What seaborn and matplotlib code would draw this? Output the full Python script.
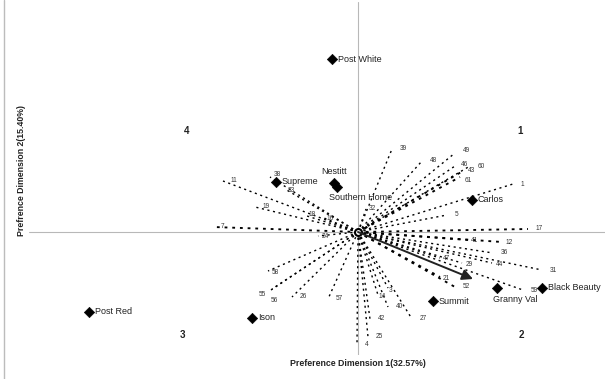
import matplotlib
matplotlib.use("Agg")
import matplotlib.pyplot as plt
import seaborn as sns
import pandas as pd

# product positions on the two preference dimensions
products = ["Post White", "Supreme", "Nestitt", "Southern Home", "Carlos",
            "Black Beauty", "Granny Val", "Summit", "Ison", "Post Red"]
prod_dim1 = [-0.26, -0.82, -0.24, -0.21, 1.14, 1.84, 1.39, 0.75, -1.06, -2.69]
prod_dim2 = [1.73, 0.50, 0.49, 0.45, 0.32, -0.56, -0.56, -0.69, -0.86, -0.80]

# consumer preference vectors (end points)
consumers = ["39", "48", "49", "46", "60", "43", "61", "1", "5", "32", "17",
             "11", "38", "33", "19", "18", "16", "7",
             "24", "58", "55", "56", "26", "57", "4",
             "25", "42", "14", "3", "40", "27", "52", "21", "47", "29", "44",
             "36", "41", "12", "31", "59"]
cons_dim1 = [0.34, 0.64, 0.97, 0.97, 1.12, 1.05, 1.02, 1.55, 0.89, 0.08, 1.70,
             -1.35, -0.88, -0.73, -1.03, -0.51, -0.34, -1.45,
             -0.40, -0.90, -0.90, -0.86, -0.66, -0.30, -0.01,
             0.10, 0.12, 0.20, 0.30, 0.30, 0.54, 0.97, 0.82, 0.82, 1.04, 1.34,
             1.35, 1.10, 1.44, 1.84, 1.65]
cons_dim2 = [0.83, 0.71, 0.79, 0.66, 0.66, 0.61, 0.55, 0.48, 0.17, 0.23, 0.03,
             0.51, 0.55, 0.43, 0.25, 0.16, 0.14, 0.05,
             -0.04, -0.39, -0.60, -0.57, -0.65, -0.67, -1.13,
             -1.05, -0.87, -0.63, -0.56, -0.75, -0.87, -0.55, -0.45, -0.26, -0.31, -0.31,
             -0.21, -0.08, -0.10, -0.38, -0.58]

# average preference direction
ideal_dim1 = 1.15
ideal_dim2 = -0.47

quadrants = ["1", "4", "3", "2"]

sns.set_style("white")
plt.rcParams["font.family"] = ["Liberation Sans", "DejaVu Sans"]

fig = plt.figure(figsize=(6.08, 3.79), dpi=100)
W, H = 608, 379
ax = fig.add_axes([29 / W, (H - 355) / H, (605 - 29) / W, (355 - 2) / H])
ax.set_xlim(-3.29, 2.47)
ax.set_ylim(-1.23, 2.30)
ax.axis("off")

ax.axhline(0, color="#b8b8b8", lw=0.8, zorder=0)
ax.axvline(0, color="#b8b8b8", lw=0.8, zorder=0)

# left border of the original frame
fig.add_artist(plt.Line2D([4 / W, 4 / W], [0, 1], color="#bcbcbc", lw=1.0))

thick = {"17", "7", "61", "43", "52", "12", "41", "21"}
lab_off = {"43": (5, 1), "61": (5, -4), "46": (6, 1), "49": (8, 2),
           "32": (3, 1), "38": (4, 3), "33": (3, -2),
           "18": (2, 1), "16": (3, -1), "24": (4, -1), "58": (4, -2),
           "55": (-9, -2), "56": (-1, -11), "14": (1, -2), "3": (1, -3),
           "21": (3, -2), "47": (3, 0), "41": (3, 0), "12": (4, -1),
           "29": (4, -1), "44": (4, -1)}
px = 0.72  # points per pixel

for name, x, y in zip(consumers, cons_dim1, cons_dim2):
    lw = 1.35 if name in thick else 1.0
    ax.plot([0, x], [0, y], color="black", lw=lw,
            linestyle=(0, (1.5, 2.6)), zorder=1)
    dx, dy = lab_off.get(name, (8, 0))
    ax.annotate(name, (x, y), xytext=(dx * px, dy * px), textcoords="offset points",
                fontsize=4.7, color="#333333", ha="left", va="center")

ax.plot([0], [0], marker="o", ms=5, mfc="white", mec="black", mew=1.5, zorder=3)

ax.annotate("", xy=(ideal_dim1, ideal_dim2), xytext=(0, 0),
            arrowprops=dict(arrowstyle="-|>", color="#222222", lw=1.4,
                            mutation_scale=16, shrinkA=0, shrinkB=0), zorder=4)

df = pd.DataFrame({"dim1": prod_dim1, "dim2": prod_dim2, "product": products})
sns.scatterplot(data=df, x="dim1", y="dim2", marker="D", s=28, color="black",
                edgecolor="black", ax=ax, zorder=5, legend=False)

prod_off = {"Nestitt": (0, 11, "center"), "Southern Home": (-8, -10, "left"),
            "Granny Val": (-4, -11, "left")}
for name, x, y in zip(products, prod_dim1, prod_dim2):
    dx, dy, ha = prod_off.get(name, (6, 0, "left"))
    ax.annotate(name, (x, y), xytext=(dx * px, dy * px), textcoords="offset points",
                fontsize=6.5, color="#222222", ha=ha, va="center")

quad_pos = [(520, 131), (187, 131), (182, 335), (521, 335)]
for q, (qx, qy) in zip(quadrants, quad_pos):
    fig.text(qx / W, 1 - qy / H, q, fontsize=7, fontweight="bold",
             color="#222222", ha="center", va="center")

fig.text(358 / W, 1 - 363 / H, "Preference Dimension 1(32.57%)", fontsize=6.3,
         fontweight="bold", color="#222222", ha="center", va="center")
fig.text(21 / W, 1 - 170 / H, "Prefrence Dimension 2(15.40%)", fontsize=6.3,
         fontweight="bold", color="#222222", ha="center", va="center", rotation=90)

fig.savefig("out.png", dpi=100)
